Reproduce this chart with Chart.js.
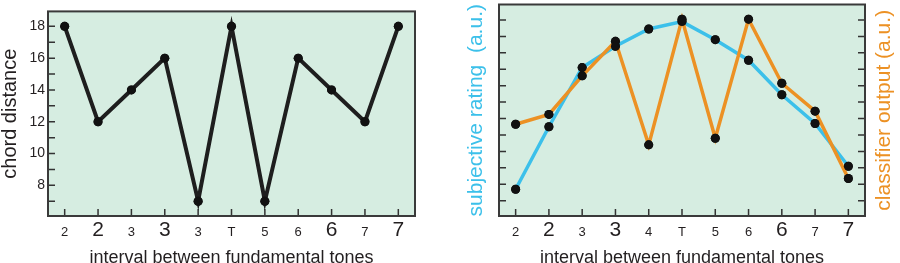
<!DOCTYPE html>
<html>
<head>
<meta charset="utf-8">
<script src="https://cdn.jsdelivr.net/npm/chart.js@4/dist/chart.umd.min.js"></script>
<style>
  html, body { margin: 0; padding: 0; background: #fff; }
  #wrap { position: relative; width: 900px; height: 263px; overflow: hidden; }
  canvas { position: absolute; top: 0; }
  #left { left: 0; }
  #right { left: 450px; }
</style>
</head>
<body>
<div id="wrap">
  <canvas id="left" width="450" height="263"></canvas>
  <canvas id="right" width="450" height="263"></canvas>
</div>
<script>
// data
const intervalsLeft = ['2', '2', '3', '3', '3', 'T', '5', '6', '6', '7', '7'];
const intervalsRight = ['2', '2', '3', '3', '4', 'T', '5', '6', '6', '7', '7'];
const chordDistance = [18, 12, 14, 16, 7, 18, 7, 16, 14, 12, 18];
const subjectiveRating = [7.7, 11.5, 15.1, 16.4, 17.45, 17.9, 16.8, 15.55, 13.45, 11.7, 9.1];
const classifierOutput = [11.65, 12.25, 14.6, 16.7, 10.4, 18.05, 10.8, 18.05, 14.15, 12.45, 8.35];
const yTickLabels = [8, 10, 12, 14, 16, 18];

// the big labels along the x axis
const largeTicks = [1, 3, 8, 10];

const FONT = "'Liberation Sans', Arial, Helvetica, sans-serif";
const INK = '#231f20';
const CYAN = '#3cc0ea';
const ORANGE = '#ec9124';
const Y_MIN = 6.07;
const Y_MAX = 18.94;

const frame = {
  id: 'frame',
  beforeDraw(chart) {
    const { ctx, chartArea: a } = chart;
    ctx.save();
    ctx.fillStyle = '#d6ede1';
    ctx.fillRect(a.left, a.top, a.right - a.left, a.bottom - a.top);
    ctx.restore();
  },
  beforeDatasetsDraw(chart, args, opts) {
    const { ctx, chartArea: a } = chart;
    const x = chart.scales.x;
    const y = chart.scales.y;
    ctx.save();
    ctx.strokeStyle = '#333';
    ctx.lineWidth = 1.5;
    ctx.beginPath();
    x.ticks.forEach((t, i) => {
      const px = x.getPixelForValue(i);
      ctx.moveTo(px, a.bottom);
      ctx.lineTo(px, a.bottom - 7);
    });
    for (let v = 7; v <= 18; v++) {
      const py = y.getPixelForValue(v);
      ctx.moveTo(a.left, py);
      ctx.lineTo(a.left + 7, py);
      if (opts.rightTicks) {
        ctx.moveTo(a.right, py);
        ctx.lineTo(a.right - 7, py);
      }
    }
    ctx.stroke();
    ctx.restore();
  },
  afterDatasetsDraw(chart) {
    // dots sit on top of every line
    chart.data.datasets.forEach((ds, i) => {
      chart.getDatasetMeta(i).data.forEach(p => p.draw(chart.ctx));
    });
  },
  afterDraw(chart, args, opts) {
    const { ctx, chartArea: a } = chart;
    ctx.save();
    ctx.strokeStyle = '#3a3a3a';
    ctx.lineWidth = 2;
    ctx.strokeRect(a.left, a.top, a.right - a.left, a.bottom - a.top);
    if (opts.rightTitle) {
      ctx.translate(chart.width - 16, (a.top + a.bottom) / 2);
      ctx.rotate(-Math.PI / 2);
      ctx.font = '21px ' + FONT;
      ctx.fillStyle = opts.rightTitleColor;
      ctx.textAlign = 'center';
      ctx.textBaseline = 'middle';
      ctx.fillText(opts.rightTitle, 0, 0);
    }
    ctx.restore();
  }
};

function xAxis(labels) {
  return {
    type: 'category',
    labels: labels,
    offset: true,
    grid: { display: false, drawTicks: false },
    border: { display: false },
    ticks: {
      padding: 2,
      color: INK,
      autoSkip: false,
      maxRotation: 0,
      font: ctx => largeTicks.includes(ctx.index)
        ? { family: FONT, size: 21, lineHeight: '24px' }
        : { family: FONT, size: 13, lineHeight: '28px' }
    },
    title: {
      display: true,
      text: 'interval between fundamental tones',
      color: INK,
      font: { family: FONT, size: 18, lineHeight: 0.6 },
      padding: 0
    },
    afterFit: s => { s.height = 47; }
  };
}

function yAxis(width, opts) {
  return Object.assign({
    type: 'linear',
    min: Y_MIN,
    max: Y_MAX,
    grid: { display: false, drawTicks: false },
    border: { display: false },
    ticks: { display: false, stepSize: 1, includeBounds: false },
    afterFit: s => { s.width = width; }
  }, opts);
}

function lineSet(data, color, width) {
  return {
    data: data,
    borderColor: color,
    borderWidth: width,
    borderJoinStyle: 'miter',
    pointRadius: 4.5,
    pointBackgroundColor: '#111',
    pointBorderWidth: 0,
    tension: 0
  };
}

const common = {
  responsive: false,
  animation: false,
  events: [],
  plugins: { legend: { display: false }, tooltip: { enabled: false } }
};

new Chart(document.getElementById('left'), {
  type: 'line',
  data: { datasets: [lineSet(chordDistance, '#1e1e1e', 4)] },
  options: Object.assign({}, common, {
    layout: { padding: { top: 1, right: 35, left: 0, bottom: 0 } },
    plugins: Object.assign({}, common.plugins, { frame: { rightTicks: false } }),
    scales: {
      x: xAxis(intervalsLeft),
      y: yAxis(48, {
        ticks: {
          stepSize: 1,
          includeBounds: false,
          autoSkip: false,
          padding: 3,
          color: INK,
          font: { family: FONT, size: 14 },
          callback: v => yTickLabels.includes(v) ? String(v) : ''
        },
        title: {
          display: true,
          text: 'chord distance',
          color: INK,
          font: { family: FONT, size: 20, lineHeight: 1 },
          padding: 0
        }
      })
    }
  }),
  plugins: [frame]
});

new Chart(document.getElementById('right'), {
  type: 'line',
  data: {
    datasets: [
      Object.assign(lineSet(classifierOutput, ORANGE, 3.5), { yAxisID: 'y2' }),
      Object.assign(lineSet(subjectiveRating, CYAN, 3.5), { yAxisID: 'y' })
    ]
  },
  options: Object.assign({}, common, {
    layout: { padding: { top: 1, right: 0, left: 0, bottom: 0 } },
    plugins: Object.assign({}, common.plugins, {
      frame: { rightTicks: true, rightTitle: 'classifier output (a.u.)', rightTitleColor: ORANGE }
    }),
    scales: {
      x: xAxis(intervalsRight),
      y: yAxis(49, {
        position: 'left',
        title: {
          display: true,
          text: 'subjective rating  (a.u.)',
          color: CYAN,
          font: { family: FONT, size: 21, lineHeight: 1.2 },
          padding: { top: 14, bottom: 0 }
        }
      }),
      y2: yAxis(35, { position: 'right' })
    }
  }),
  plugins: [frame]
});
</script>
</body>
</html>
